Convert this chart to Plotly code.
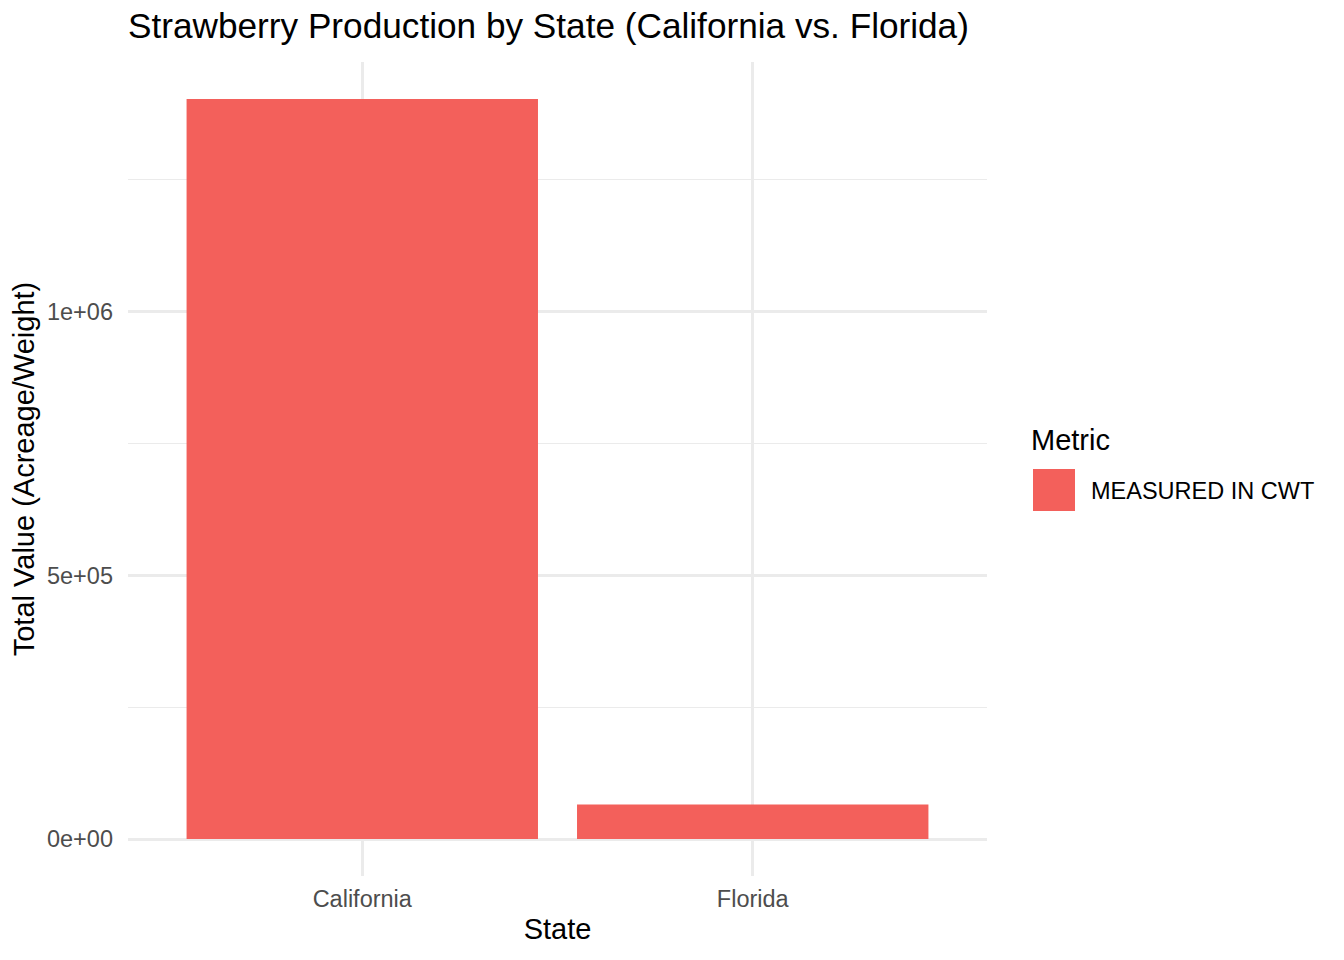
import plotly.graph_objects as go

# ---- data ----
states = ["California", "Florida"]
values = [1403000, 65500]
metric = ["MEASURED IN CWT", "MEASURED IN CWT"]
legend_title = "Metric"
y_tickvals = [0, 500000, 1000000]
y_ticktext = ["0e+00", "5e+05", "1e+06"]
y_minor = [250000, 750000, 1250000]

# ---- layout constants ----
WIDTH, HEIGHT = 1344, 960
L, R, T, B = 128, 357, 62, 84
PW = WIDTH - L - R
PH = HEIGHT - T - B
FILL = "#F3605B"
GRID = "#EBEBEB"
FONT = "Liberation Sans, Arial, Helvetica, sans-serif"


def px_x(px):
    return (px - L) / PW


def px_y(py):
    return (HEIGHT - B - py) / PH


fig = go.Figure()
fig.add_trace(go.Bar(
    x=states, y=values, name=metric[0], marker=dict(color=FILL, line=dict(width=0)),
    width=0.9, showlegend=False,
))

ymax = max(values)
fig.update_layout(
    width=WIDTH, height=HEIGHT,
    margin=dict(l=L, r=R, t=T, b=B, autoexpand=False),
    paper_bgcolor="white", plot_bgcolor="white",
    font=dict(family=FONT, color="black"),
    title=dict(text="Strawberry Production by State (California vs. Florida)",
               x=L / WIDTH, xanchor="left", xref="container",
               y=1 - 26 / HEIGHT, yanchor="middle", yref="container",
               font=dict(size=35.2, color="black", family=FONT)),
    xaxis=dict(
        range=[-0.6, len(states) - 1 + 0.6], showgrid=True, gridcolor=GRID, gridwidth=2.7,
        zeroline=False, showline=False, ticks="", ticklabelstandoff=6,
        tickfont=dict(size=23.5, color="#4D4D4D"),
        title=dict(text="State", font=dict(size=29, color="black"), standoff=8),
    ),
    yaxis=dict(
        range=[-0.05 * ymax, 1.05 * ymax], tickmode="array", tickvals=y_tickvals,
        ticktext=y_ticktext, showgrid=True, gridcolor=GRID, gridwidth=2.7,
        zeroline=False, showline=False, ticks="", ticklabelstandoff=14,
        tickfont=dict(size=23.5, color="#4D4D4D"),
        minor=dict(tickmode="array", tickvals=y_minor, showgrid=True,
                   gridcolor=GRID, gridwidth=1.4, ticks=""),
        title=dict(text="Total Value (Acreage/Weight)",
                   font=dict(size=29, color="black"), standoff=3),
    ),
    bargap=0.1,
)

# ---- legend (ggplot-style large key) ----
fig.add_shape(type="rect", xref="paper", yref="paper",
              x0=px_x(1033), x1=px_x(1075), y0=px_y(511), y1=px_y(469),
              fillcolor=FILL, line=dict(width=0), layer="above")
fig.add_annotation(text=legend_title, xref="paper", yref="paper",
                   x=px_x(1029), y=px_y(440), xanchor="left", yanchor="middle",
                   showarrow=False, font=dict(size=29, color="black", family=FONT))
fig.add_annotation(text=metric[0], xref="paper", yref="paper",
                   x=px_x(1089), y=px_y(491), xanchor="left", yanchor="middle",
                   showarrow=False, font=dict(size=23.5, color="black", family=FONT))

fig.write_html("out.html", config={"displayModeBar": False},
               post_script="document.body.style.margin='0';")
